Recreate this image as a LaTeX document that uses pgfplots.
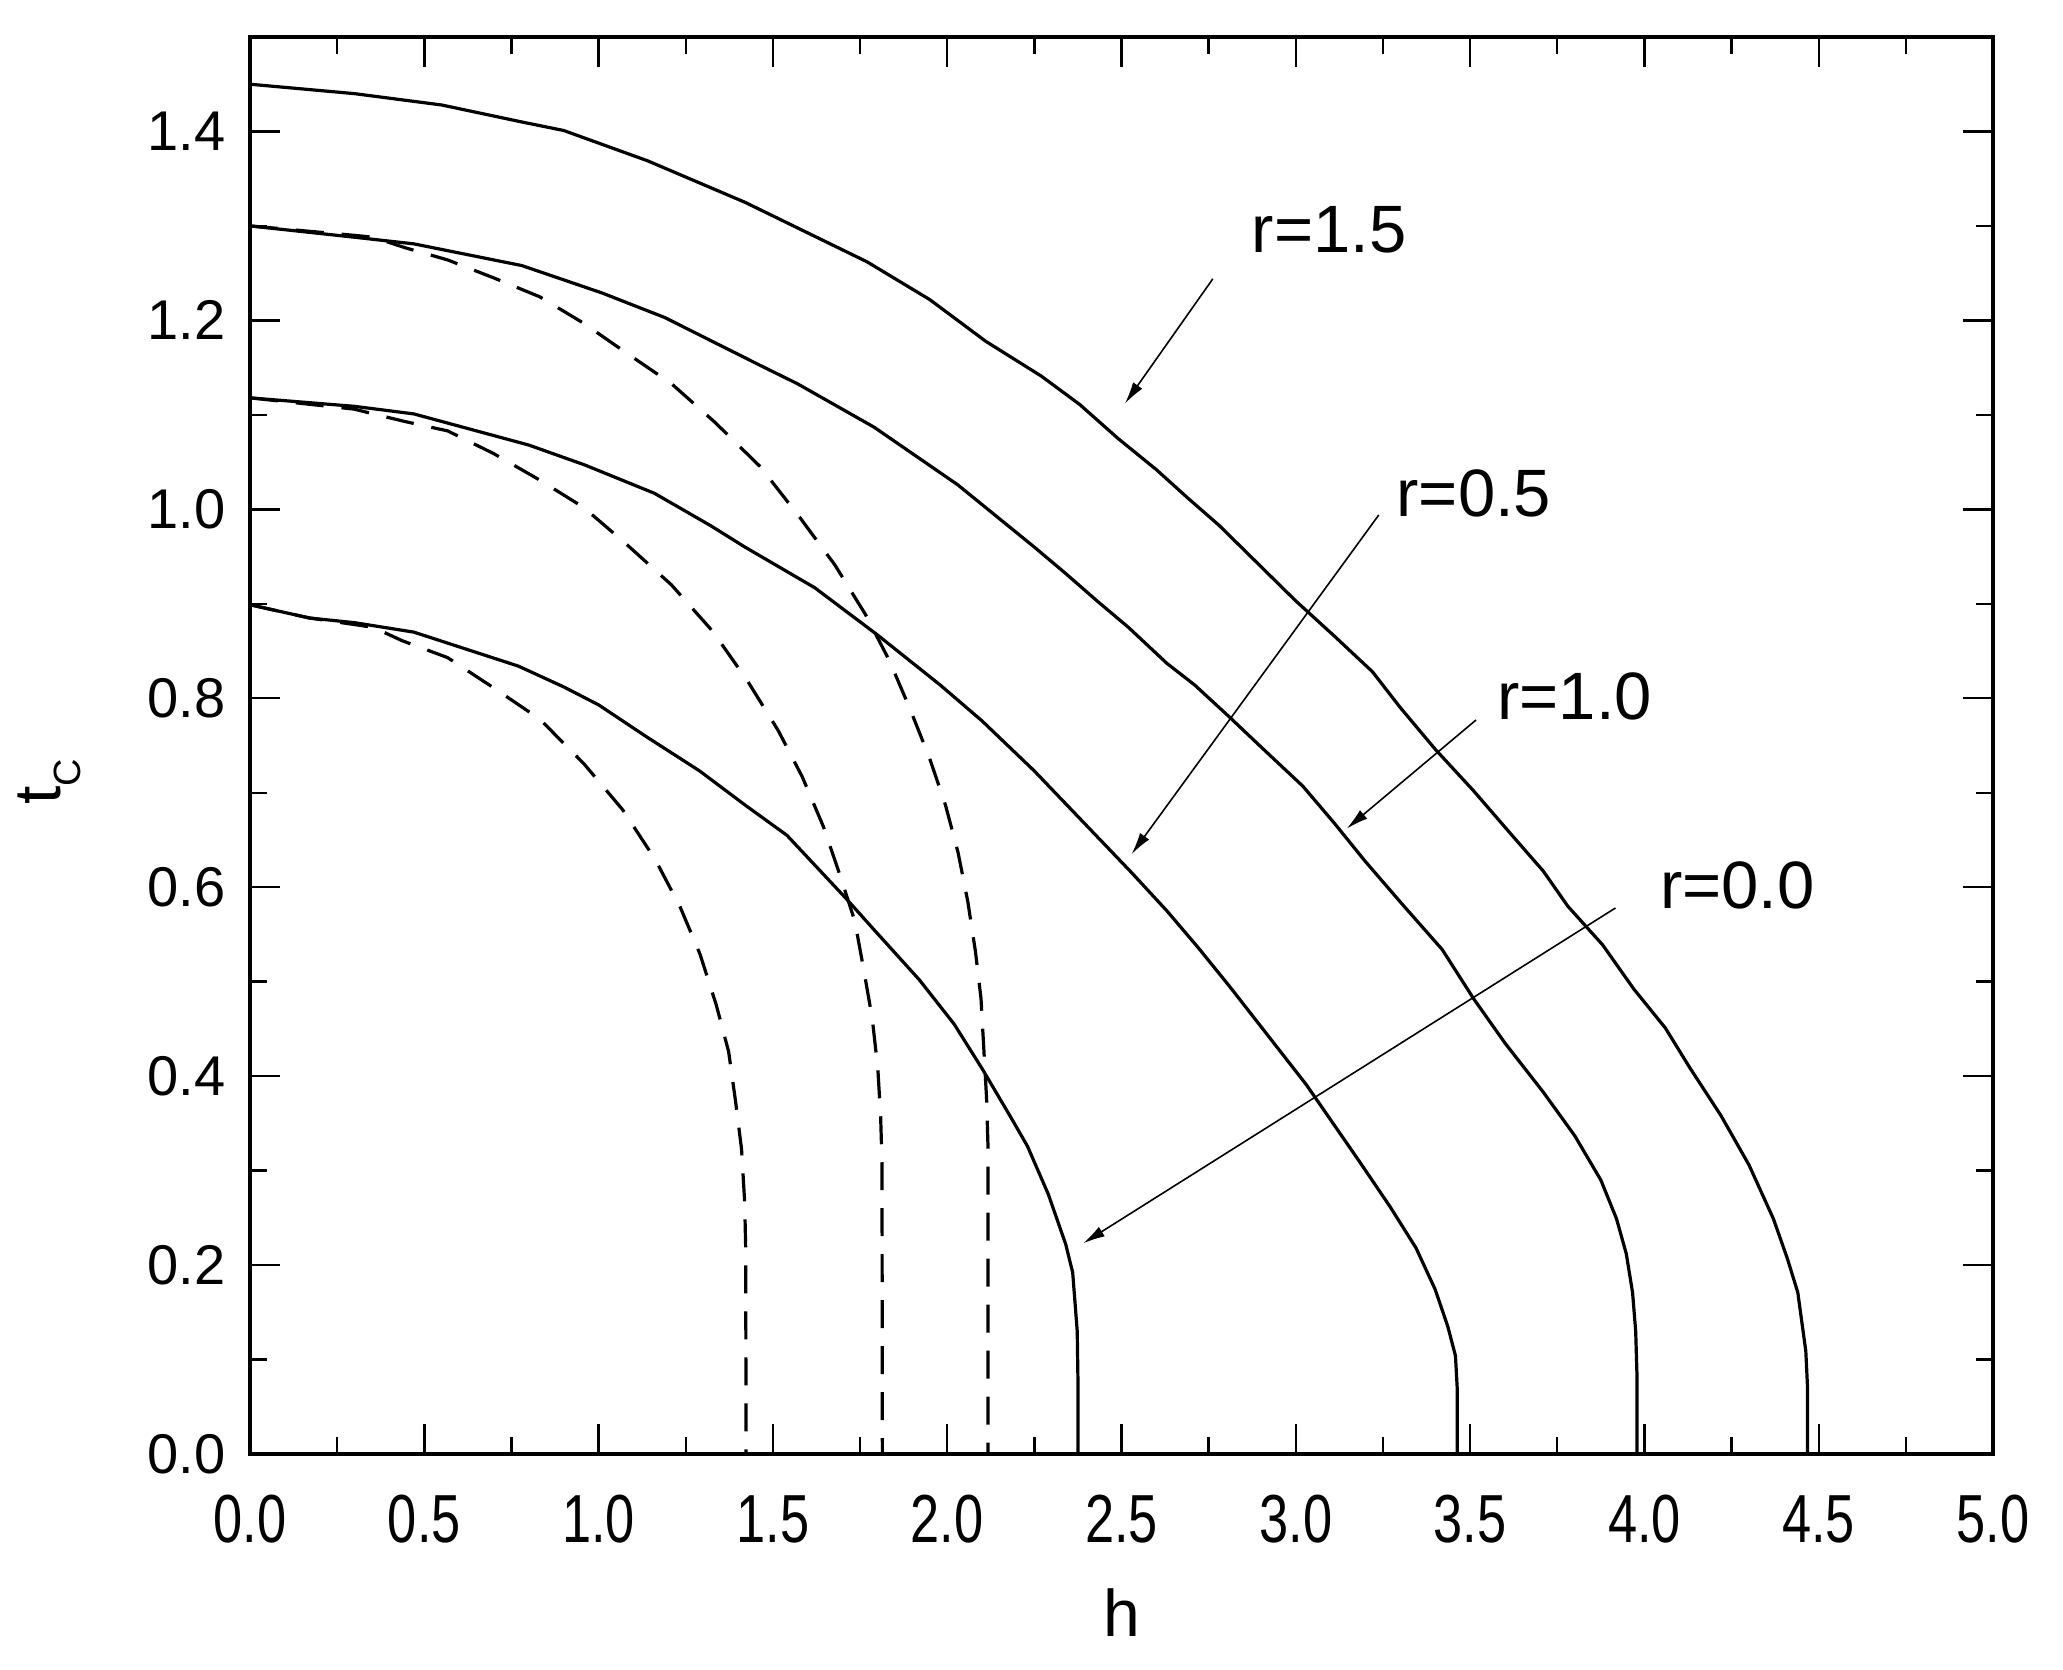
\documentclass[border=0pt]{standalone}
\usepackage{fontspec}
\setmainfont{Liberation Sans}
\newfontfamily\narrowfont[FakeStretch=0.77]{Liberation Sans}
\usepackage{pgfplots}
\pgfplotsset{compat=1.18}
\usetikzlibrary{arrows.meta}

\begin{document}
\begin{tikzpicture}
\begin{axis}[
  name=ax,
  width=435.75pt, height=354.25pt, scale only axis,
  xmin=0, xmax=5, ymin=0, ymax=1.5,
  xtick={0,0.5,1,1.5,2,2.5,3,3.5,4,4.5,5},
  ytick={0,0.2,0.4,0.6,0.8,1.0,1.2,1.4},
  minor x tick num=1, minor y tick num=1,
  tick align=inside,
  major tick length=7.5pt, minor tick length=4.25pt,
  every tick/.style={black, line width=0.6pt},
  axis line style={line width=0.9pt},
  /pgf/number format/fixed,
  /pgf/number format/fixed zerofill,
  /pgf/number format/precision=1,
  /pgf/number format/assume math mode=true,
  xticklabel style={font=\fontsize{17}{17}\narrowfont, anchor=base, inner sep=0pt, yshift=-22pt},
  yticklabel style={font=\fontsize{14}{14}\selectfont, anchor=east, inner sep=0pt, xshift=-6pt},
  xlabel={h},
  xlabel style={font=\fontsize{16.5}{17}\selectfont, at={(axis description cs:0.5,-0.1291)}, anchor=base, inner sep=0pt},
  ylabel={t\raisebox{-5pt}{\fontsize{9.5}{10}\selectfont C}},
  ylabel style={font=\fontsize{16.5}{17}\selectfont, at={(axis description cs:-0.109,0.4746)}, anchor=base, inner sep=0pt},
]
% r = 1.5
\addplot[black, line width=0.8pt] coordinates {
(0,1.450) (0.30,1.440) (0.55,1.428) (0.78,1.410) (0.90,1.401) (1.14,1.369)
(1.42,1.325) (1.77,1.262) (1.95,1.222) (2.11,1.178) (2.27,1.141) (2.38,1.111)
(2.49,1.075) (2.60,1.042) (2.69,1.012) (2.78,0.983) (2.89,0.943) (3.00,0.903)
(3.11,0.866) (3.22,0.828) (3.30,0.790) (3.40,0.746) (3.51,0.702) (3.62,0.655)
(3.71,0.617) (3.78,0.580) (3.88,0.539) (3.97,0.492) (4.06,0.451) (4.13,0.409)
(4.22,0.358) (4.30,0.306) (4.37,0.249) (4.41,0.207) (4.44,0.171) (4.463,0.109)
(4.468,0.07) (4.468,0)
};
% r = 1.0
\addplot[black, line width=0.8pt] coordinates {
(0,1.300) (0.30,1.288) (0.47,1.281) (0.78,1.258) (1.01,1.229) (1.19,1.203)
(1.46,1.153) (1.57,1.133) (1.79,1.087) (2.03,1.026) (2.25,0.960) (2.34,0.932)
(2.43,0.903) (2.52,0.875) (2.63,0.837) (2.71,0.814) (2.81,0.780) (2.89,0.752)
(3.02,0.707) (3.11,0.668) (3.20,0.627) (3.31,0.580) (3.42,0.534) (3.51,0.482)
(3.60,0.435) (3.71,0.383) (3.80,0.337) (3.875,0.290) (3.92,0.249) (3.948,0.212)
(3.966,0.171) (3.975,0.130) (3.979,0.08) (3.979,0)
};
% r = 0.5
\addplot[black, line width=0.8pt] coordinates {
(0,1.118) (0.30,1.109) (0.47,1.101) (0.80,1.068) (0.96,1.047) (1.16,1.017)
(1.32,0.983) (1.42,0.960) (1.62,0.917) (1.80,0.867) (1.98,0.814) (2.10,0.776)
(2.25,0.723) (2.39,0.669) (2.53,0.615) (2.63,0.575) (2.72,0.536) (2.81,0.495)
(2.92,0.443) (3.03,0.391) (3.18,0.311) (3.27,0.262) (3.345,0.218) (3.40,0.174)
(3.436,0.135) (3.458,0.104) (3.463,0.07) (3.463,0)
};
% r = 0.0
\addplot[black, line width=0.8pt] coordinates {
(0,0.899) (0.17,0.885) (0.30,0.880) (0.47,0.870) (0.77,0.834) (0.90,0.812)
(1.00,0.793) (1.13,0.761) (1.29,0.723) (1.42,0.687) (1.54,0.655) (1.71,0.588)
(1.79,0.555) (1.92,0.502) (2.02,0.455) (2.10,0.408) (2.18,0.358) (2.23,0.326)
(2.29,0.275) (2.34,0.222) (2.36,0.192) (2.373,0.130) (2.375,0.08) (2.375,0)
};
% dashed branches
\addplot[black, line width=0.8pt, dash pattern=on 7pt off 4.5pt] coordinates {
(0,0.899) (0.17,0.885) (0.30,0.878) (0.354,0.875) (0.436,0.861) (0.567,0.843)
(0.699,0.811) (0.831,0.778) (0.957,0.731) (1.069,0.682) (1.163,0.629) (1.234,0.579)
(1.291,0.529) (1.337,0.476) (1.373,0.426) (1.393,0.373) (1.410,0.323) (1.419,0.267)
(1.422,0.217) (1.423,0)
};
\addplot[black, line width=0.8pt, dash pattern=on 7pt off 4.5pt] coordinates {
(0,1.118) (0.30,1.106) (0.354,1.101) (0.444,1.093) (0.567,1.083) (0.699,1.059)
(0.831,1.031) (0.957,1.002) (1.074,0.965) (1.209,0.920) (1.327,0.871) (1.426,0.819)
(1.515,0.766) (1.584,0.717) (1.645,0.664) (1.694,0.611) (1.735,0.564) (1.760,0.514)
(1.785,0.461) (1.801,0.408) (1.809,0.358) (1.813,0.308) (1.814,0)
};
\addplot[black, line width=0.8pt, dash pattern=on 7pt off 4.5pt] coordinates {
(0,1.300) (0.30,1.290) (0.354,1.288) (0.444,1.277) (0.567,1.264) (0.699,1.245)
(0.831,1.225) (0.957,1.197) (1.074,1.167) (1.209,1.133) (1.334,1.092) (1.464,1.045)
(1.574,0.993) (1.678,0.941) (1.765,0.889) (1.834,0.840) (1.893,0.789) (1.949,0.737)
(1.995,0.687) (2.031,0.637) (2.059,0.585) (2.081,0.532) (2.097,0.482) (2.105,0.429)
(2.113,0.376) (2.117,0.326) (2.117,0)
};
% annotations
\draw[line width=0.4pt, -{Latex[length=5.5pt,width=2.8pt]}] (axis cs:2.762,1.244) -- (axis cs:2.510,1.112);
\draw[line width=0.4pt, -{Latex[length=5.5pt,width=2.8pt]}] (axis cs:3.238,0.994) -- (axis cs:2.529,0.635);
\draw[line width=0.4pt, -{Latex[length=5.5pt,width=2.8pt]}] (axis cs:3.517,0.777) -- (axis cs:3.146,0.662);
\draw[line width=0.4pt, -{Latex[length=5.5pt,width=2.8pt]}] (axis cs:3.917,0.578) -- (axis cs:2.390,0.223);
\node[font=\fontsize{16.75}{17}\selectfont] at (axis cs:3.096,1.296) {r=1.5};
\node[font=\fontsize{16.75}{17}\selectfont] at (axis cs:3.511,1.017) {r=0.5};
\node[font=\fontsize{16.75}{17}\selectfont] at (axis cs:3.800,0.802) {r=1.0};
\node[font=\fontsize{16.75}{17}\selectfont] at (axis cs:4.267,0.602) {r=0.0};
\end{axis}
\pgfresetboundingbox
\path[use as bounding box] ([xshift=-62.5pt,yshift=-53.75pt]ax.south west) rectangle ([xshift=17.5pt,yshift=9.25pt]ax.north east);
\end{tikzpicture}
\end{document}
